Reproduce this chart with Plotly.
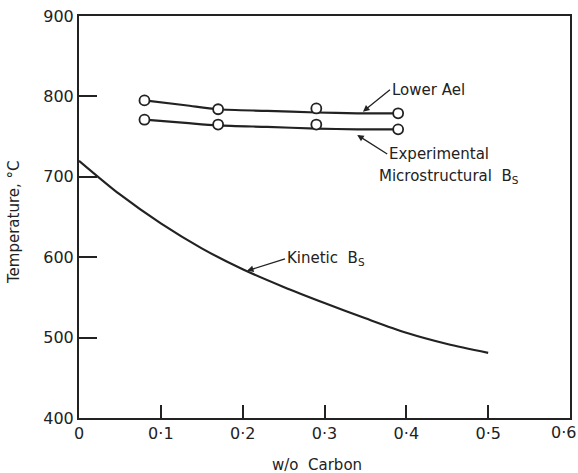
import plotly.graph_objects as go

# ---- data ----
carbon_pts = [0.08, 0.17, 0.29, 0.39]
lower_ae1_pts = [795, 784, 785, 779]
exp_bs_pts = [771, 765, 765, 759]

lower_ae1_curve_x = [0.08, 0.13, 0.17, 0.23, 0.29, 0.34, 0.39]
lower_ae1_curve_y = [795, 789, 784, 782, 780, 779, 779]
exp_bs_curve_x = [0.08, 0.13, 0.17, 0.23, 0.29, 0.34, 0.39]
exp_bs_curve_y = [771, 767, 764, 762, 760, 759, 759]

kinetic_x = [0.0, 0.05, 0.1, 0.15, 0.2, 0.25, 0.3, 0.35, 0.4, 0.45, 0.5]
kinetic_y = [720, 678, 642, 611, 585, 563, 543, 524, 506, 492, 481]

x_tickvals = [0, 0.1, 0.2, 0.3, 0.4, 0.5, 0.6]
x_ticktext = ["0", "0·1", "0·2", "0·3", "0·4", "0·5", ""]
x_last_label = "0·6"
y_tickvals = [400, 500, 600, 700, 800, 900]

FONT = "DejaVu Sans"
INK = "#222"

fig = go.Figure()
line_style = dict(color=INK, width=2.2, shape="spline", smoothing=0.8)
fig.add_trace(go.Scatter(x=lower_ae1_curve_x, y=lower_ae1_curve_y, mode="lines", line=line_style, hoverinfo="skip"))
fig.add_trace(go.Scatter(x=exp_bs_curve_x, y=exp_bs_curve_y, mode="lines", line=line_style, hoverinfo="skip"))
fig.add_trace(go.Scatter(x=kinetic_x, y=kinetic_y, mode="lines", line=line_style, hoverinfo="skip"))
marker_style = dict(symbol="circle", size=10, color="white", line=dict(color=INK, width=1.8))
fig.add_trace(go.Scatter(x=carbon_pts, y=lower_ae1_pts, mode="markers", marker=marker_style))
fig.add_trace(go.Scatter(x=carbon_pts, y=exp_bs_pts, mode="markers", marker=marker_style))

ann_font = dict(family=FONT, size=15, color=INK)
tick_font = dict(family=FONT, size=16, color=INK)
arrow = dict(showarrow=True, arrowhead=2, arrowsize=1, arrowwidth=1.3, arrowcolor=INK,
             xanchor="left", yanchor="middle", font=ann_font, standoff=0, startstandoff=0)
annotations = [
    dict(x=0.347, y=781, ax=27, ay=-22, text="Lower Ael", **arrow),
    dict(x=0.34, y=752, ax=30, ay=19, text="Experimental", **arrow),
    dict(x=0.364, y=701, xanchor="left", yanchor="middle",
         text="Microstructural\u00a0\u00a0B<sub>S</sub>", showarrow=False, font=ann_font),
    dict(x=0.2053, y=583, ax=38, ay=-12, text="Kinetic\u00a0\u00a0B<sub>S</sub>", **arrow),
    dict(x=0.4855, y=-0.117, xref="paper", yref="paper", xanchor="center", yanchor="middle",
         text="w/o\u00a0\u00a0Carbon", showarrow=False, font=ann_font),
    dict(x=-0.132, y=0.488, xref="paper", yref="paper", xanchor="center", yanchor="middle",
         text="Temperature, °C", textangle=-90, showarrow=False, font=ann_font),
    dict(x=1.0155, y=-0.037, xref="paper", yref="paper", xanchor="right", yanchor="middle",
         text=x_last_label, showarrow=False, font=tick_font),
]

fig.update_layout(
    width=578, height=473,
    margin=dict(l=79, r=8, t=16, b=55, autoexpand=False),
    paper_bgcolor="white", plot_bgcolor="white",
    showlegend=False,
    font=dict(family=FONT, color=INK),
    annotations=annotations,
    xaxis=dict(range=[0, 0.6], tickvals=x_tickvals, ticktext=x_ticktext,
               ticks="inside", ticklen=13, tickwidth=1.5, tickcolor=INK,
               showline=True, linecolor=INK, linewidth=2, mirror=True,
               showgrid=False, zeroline=False, automargin=False,
               tickfont=tick_font),
    yaxis=dict(range=[400, 900], tickvals=y_tickvals,
               ticks="inside", ticklen=18, tickwidth=1.5, tickcolor=INK,
               showline=True, linecolor=INK, linewidth=2, mirror=True,
               showgrid=False, zeroline=False, automargin=False,
               tickfont=tick_font),
)

fig.write_html("out.html")
